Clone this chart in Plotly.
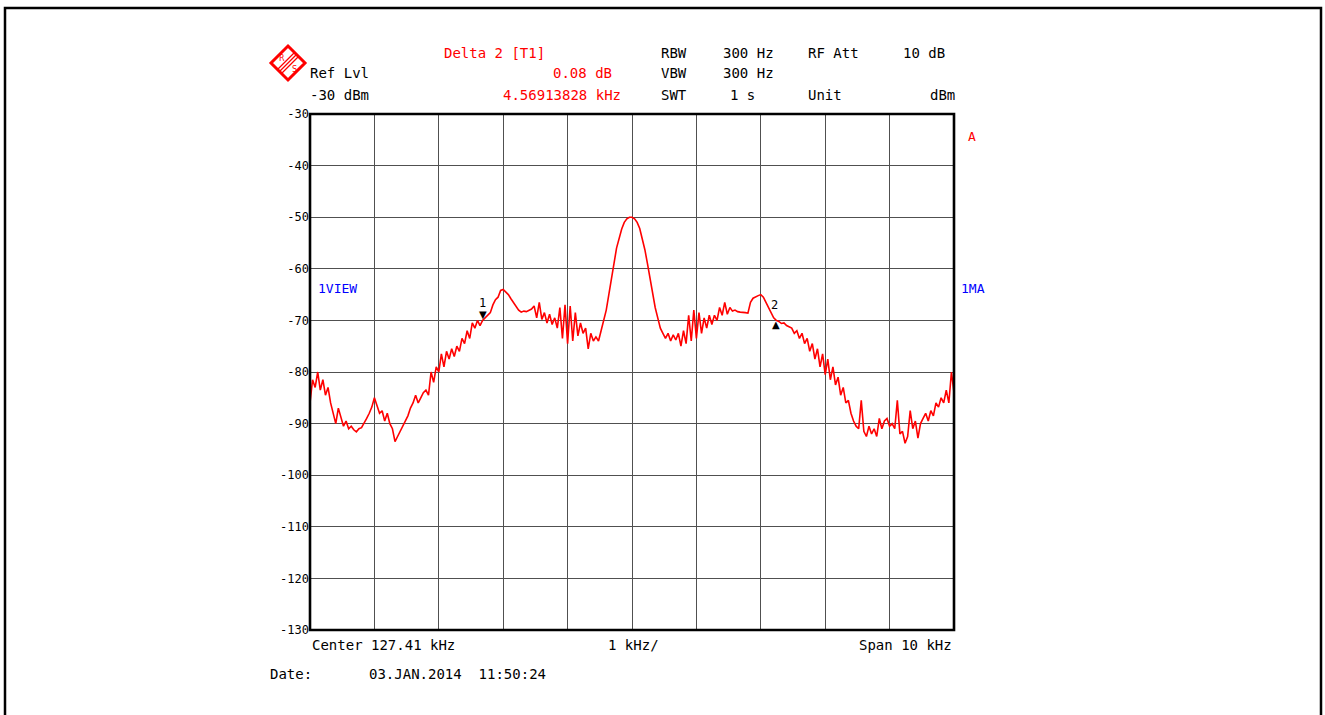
import numpy as np
import plotly.graph_objects as go

# ---------------- data ----------------
center_khz = 127.41
span_khz = 10.0
n_points = 251

level_dbm = [
    # -5 .. -4 kHz
    -86, -81.5, -83, -80, -83.5, -81.5, -84.5, -83, -86, -88, -90, -87, -89, -90.5, -89.5,
    -91, -90.5, -91.2, -91.6, -91, -90.8, -90, -89, -88, -86.8,
    # -4 .. -3 kHz
    -85, -86.5, -88, -87.5, -89.5, -88, -90, -91, -93.5, -92.5, -91.5, -90.5, -89.5, -88.5, -87,
    -86, -84.5, -86, -85, -84, -83.5, -84.5, -80, -82, -79,
    # -3 .. -2 kHz
    -80, -76.5, -79, -76, -77.5, -75.5, -77, -75, -76, -73.5, -74.5, -72, -73.5, -70.5, -71.5,
    -70, -71, -70, -69.5, -68.8, -68.5, -67, -66, -65.5, -64.2,
    # -2 .. -1 kHz
    -64, -64.5, -65, -65.8, -66.5, -67.3, -68, -68.4, -68.2, -68.3, -68, -67.8, -67.2, -69.5, -66.5,
    -69.8, -68.5, -70.5, -68.8, -70.8, -69.5, -71.5, -67.5, -73.5, -67,
    # -1 .. 0 kHz
    -74.5, -67.2, -74, -68.5, -73, -70.5, -72.5, -71.5, -75.5, -72.5, -74, -73.2, -74, -72, -70,
    -68, -65, -61.5, -59, -56, -54, -52.3, -51, -50.3, -50,
    # 0 .. 1 kHz
    -50, -50.3, -51, -52.2, -54, -56.3, -59, -62, -65, -67.5, -69.5, -71.5, -72.5, -73.5, -72.5,
    -74, -72.8, -73.8, -72.5, -75, -72, -74.5, -69, -74, -68,
    # 1 .. 2 kHz
    -73.5, -68.5, -72.5, -69.5, -71.5, -69, -70.8, -69, -70, -67.5, -69, -66.5, -68.8, -67.5, -68.2,
    -68, -68.3, -68.4, -68.4, -68.5, -68.6, -66.5, -65.7, -65.4, -65.2,
    # 2 .. 3 kHz
    -65, -65.5, -66.5, -67.5, -68.5, -69.5, -70, -70.2, -70.6, -70.5, -71, -71.2, -71.5, -72.5, -72,
    -73.5, -72.5, -74.5, -73.5, -76, -74.5, -77.5, -75.5, -79, -76.5,
    # 3 .. 4 kHz
    -80.5, -77.5, -81.5, -79, -82.5, -81, -84.5, -83, -86, -85.5, -88, -89.5, -90.5, -91, -85.5,
    -91.5, -92.5, -90.5, -92, -91, -92.5, -89, -91, -89.5, -89,
    # 4 .. 5 kHz
    -90.5, -90, -91, -85.5, -92, -91.5, -93.8, -92.5, -87.5, -91, -89.5, -92.8, -90, -89, -88,
    -89.5, -87.5, -88.5, -86, -86.8, -85, -86, -83.5, -86, -80, -84,
]

marker1_index = 67
marker2_index = 181

ref_level = -30
y_bottom = -130
y_ticks = list(range(-30, -131, -10))
y_tick_labels = [str(v) for v in y_ticks]

header_left = ["Ref Lvl", "-30 dBm"]
delta_texts = ["Delta 2 [T1]", "0.08 dB", "4.56913828 kHz"]
setting_names = ["RBW", "VBW", "SWT"]
setting_values = ["300 Hz", "300 Hz", "1 s"]
bottom_texts = ["Center 127.41 kHz", "1 kHz/", "Span 10 kHz"]
date_label = "Date:"
date_value = "03.JAN.2014  11:50:24"

freq_khz = center_khz + np.linspace(-span_khz / 2, span_khz / 2, n_points)

# ---------------- layout geometry ----------------
W_FIG, H_FIG = 1325, 715
L, R, T, B = 310, 954, 114, 630
PW, PH = R - L, B - T


def px(x):
    return (x - L) / PW


def py(y):
    return (B - y) / PH


FONT = "DejaVu Sans Mono"
RED = "#ff0000"
BLUE = "#0000ff"

fig = go.Figure()
fig.add_trace(go.Scatter(
    x=freq_khz, y=level_dbm, mode="lines",
    line=dict(color=RED, width=1.6), showlegend=False, hoverinfo="skip",
))

ann = []


def text(x, y, s, color="black", anchor="left", size=14):
    ann.append(dict(x=px(x), y=py(y), xref="paper", yref="paper", text=s,
                    showarrow=False, xanchor=anchor, yanchor="middle",
                    font=dict(family=FONT, size=size, color=color), borderpad=0))


# header
text(443, 53, delta_texts[0], RED)
text(613, 73, delta_texts[1], RED, "right")
text(622, 95, delta_texts[2], RED, "right")
text(309, 73, header_left[0])
text(309, 95, header_left[1])
for i, yy in enumerate([53, 73, 95]):
    text(660, yy, setting_names[i])
text(722, 53, setting_values[0])
text(722, 73, setting_values[1])
text(756, 95, setting_values[2], anchor="right")
text(807, 53, "RF Att")
text(946, 53, "10 dB", anchor="right")
text(807, 95, "Unit")
text(956, 95, "dBm", anchor="right")

text(972, 137, "A", RED, "center", 13)
text(317, 288, "1VIEW", BLUE, size=13)
text(960, 288, "1MA", BLUE, size=13)

text(311, 645, bottom_texts[0])
text(633, 645, bottom_texts[1], anchor="center")
text(953, 645, bottom_texts[2], anchor="right")
text(269, 674, date_label)
text(368, 674, date_value)

# markers
for idx, sym, ys, lab, lys, lxs in [
    (marker1_index, "▼", 6, "1", 17, 0),
    (marker2_index, "▲", -4, "2", 15, -2),
]:
    ann.append(dict(x=freq_khz[idx], y=level_dbm[idx], xref="x", yref="y", text=sym,
                    showarrow=False, yshift=ys, font=dict(family="DejaVu Sans", size=10, color="black")))
    ann.append(dict(x=freq_khz[idx], y=level_dbm[idx], xref="x", yref="y", text=lab,
                    showarrow=False, yshift=lys, xshift=lxs,
                    font=dict(family=FONT, size=12, color="black")))

shapes = []
# outer frame
shapes.append(dict(type="rect", xref="paper", yref="paper",
                   x0=px(5), x1=px(1321), y0=py(725), y1=py(8),
                   line=dict(color="black", width=2.5), fillcolor="rgba(0,0,0,0)"))
# plot border
shapes.append(dict(type="rect", xref="paper", yref="paper", x0=0, x1=1, y0=0, y1=1,
                   line=dict(color="black", width=2.6), fillcolor="rgba(0,0,0,0)", layer="above"))

# R&S logo (diamond)
cx, cy, h = 288, 63, 17


def pth(pts):
    return "M " + " L ".join(f"{px(a):.5f},{py(b):.5f}" for a, b in pts) + " Z"


shapes.append(dict(type="path", xref="paper", yref="paper",
                   path=pth([(cx, cy - h), (cx + h, cy), (cx, cy + h), (cx - h, cy)]),
                   line=dict(color=RED, width=3), fillcolor="white"))
for k in (-2, 0, 2):
    shapes.append(dict(type="line", xref="paper", yref="paper",
                       x0=px(cx - 9 + k), y0=py(cy + 9 + k),
                       x1=px(cx + 9 + k), y1=py(cy - 9 + k),
                       line=dict(color=RED, width=1.3)))
ann.append(dict(x=px(cx - 6), y=py(cy - 5), xref="paper", yref="paper", text="R",
                xanchor="center", yanchor="middle", showarrow=False,
                font=dict(family="DejaVu Sans", size=8, color=RED)))
ann.append(dict(x=px(cx + 6), y=py(cy + 6), xref="paper", yref="paper", text="S",
                xanchor="center", yanchor="middle", showarrow=False,
                font=dict(family="DejaVu Sans", size=8, color=RED)))

fig.update_layout(
    width=W_FIG, height=H_FIG,
    margin=dict(l=L, r=W_FIG - R, t=T, b=H_FIG - B, pad=0),
    paper_bgcolor="white", plot_bgcolor="white",
    annotations=ann, shapes=shapes, showlegend=False,
    xaxis=dict(range=[freq_khz[0], freq_khz[-1]], tick0=freq_khz[0], dtick=1,
               showgrid=True, gridcolor="#505050", gridwidth=1.4,
               showticklabels=False, zeroline=False, showline=False, ticks=""),
    yaxis=dict(range=[y_bottom, ref_level], tickvals=y_ticks, ticktext=y_tick_labels,
               showgrid=True, gridcolor="#505050", gridwidth=1.4,
               zeroline=False, showline=False, ticks="",
               tickfont=dict(family=FONT, size=12, color="black")),
)

fig.write_html("out.html", config={"displayModeBar": False},
               post_script="document.body.style.margin='0px';")
